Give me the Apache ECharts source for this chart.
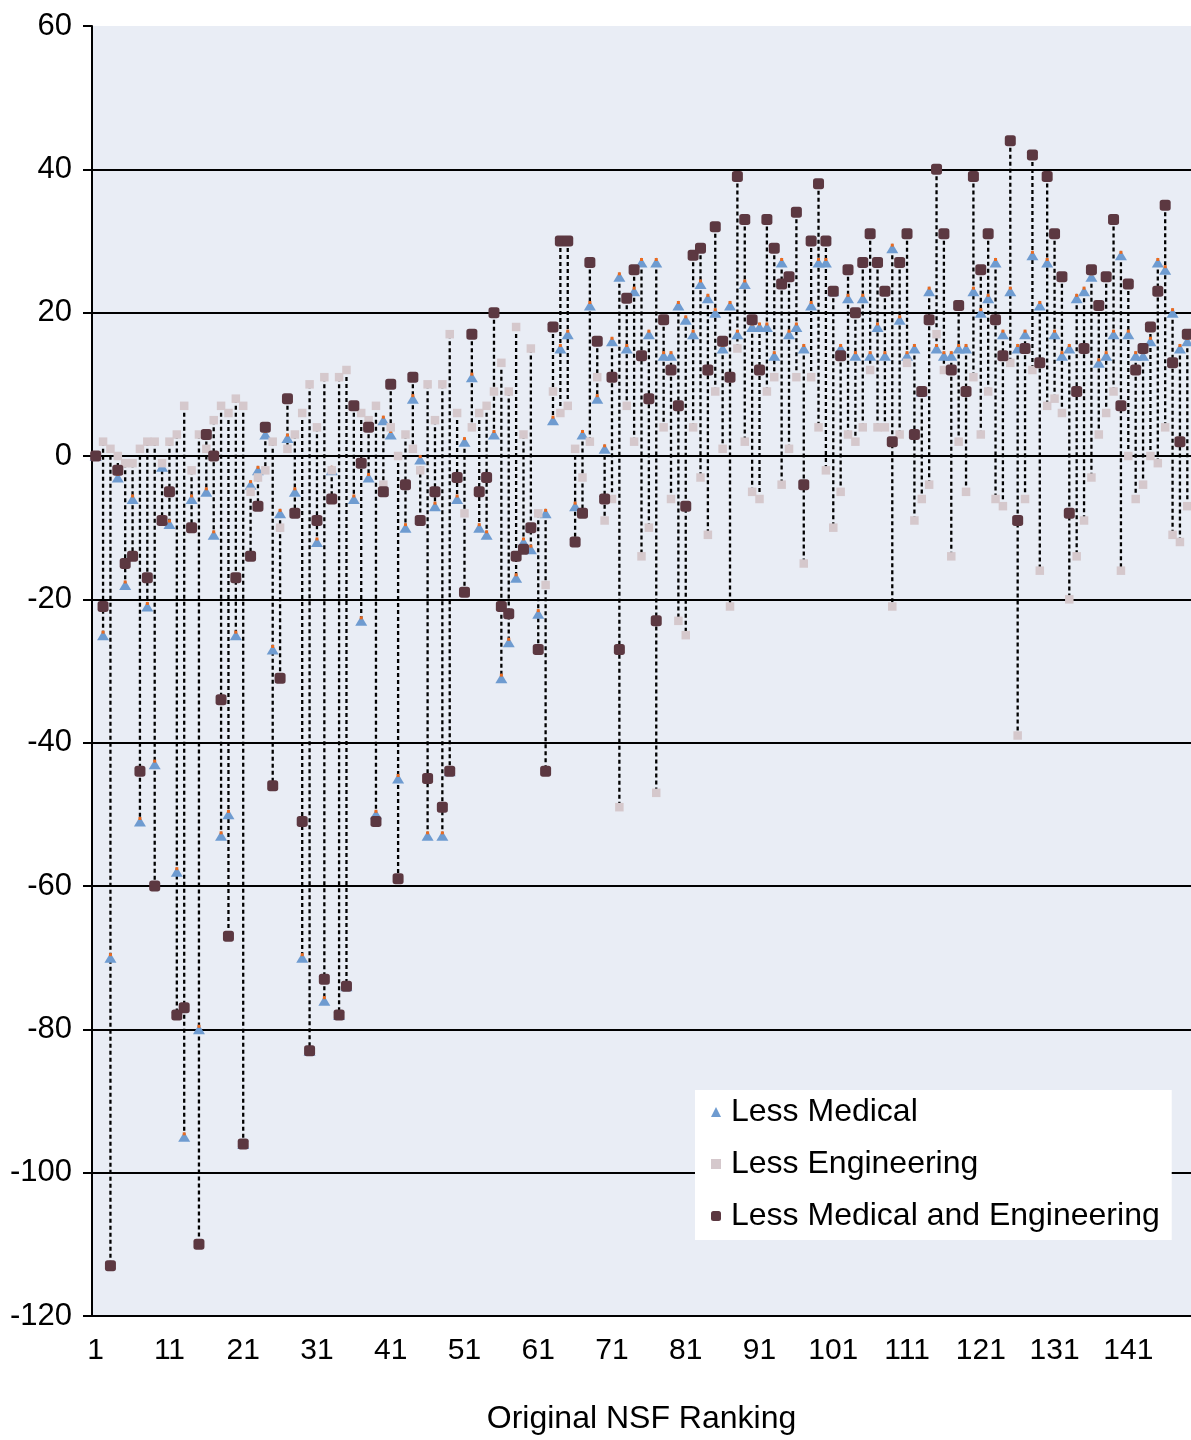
<!DOCTYPE html>
<html>
<head>
<meta charset="utf-8">
<script src="https://cdn.jsdelivr.net/npm/echarts@6/dist/echarts.min.js"></script>
<style>
  html, body { margin: 0; padding: 0; background: #ffffff; }
  #chart { width: 1191px; height: 1440px; }
</style>
</head>
<body>
<div id="chart"></div>
<script>
// Original NSF ranking positions 1..149
const categories = Array.from({ length: 149 }, (_, i) => String(i + 1));

// Change in ranking, "Less Medical"
const lessMedical = [
  0, -25, -70, -3, -18, -6, -51, -21, -43, -1.5, -9.5, -58, -95, -6, -80, -5, -11, -53, -50, -25, -96, -4, -2, 3, -27,
  -8, 2.5, -5, -70, -83, -12, -76, -2, -78, -74, -6, -23, -3, -50, 5, 3, -45, -10, 8, -0.5, -53, -7, -53, -44, -6, 2,
  11, -10, -11, 3, -31, -26, -17, -12, -13, -22, -8, 5, 15, 17, -7, 3, 21, 8, 1, 16, 25, 15, 23, 27, 17, 27,
  14, 14, 21, 19, 17, 24, 22, 20, 15, 21, 17, 24, 18, 18, 18, 14, 27, 17, 18, 15, 21, 27, 27, 23, 15,
  22, 14, 22, 14, 18, 14, 29, 19, 14, 15, 9, 23, 15, 14, 14, 15, 15, 23, 20, 22, 27, 17, 23, 15, 17,
  28, 21, 27, 17, 14, 15, 22, 23, 25, 13, 14, 17, 28, 17, 14, 14, 16, 27, 26, 20, 15, 16
];

// Change in ranking, "Less Engineering"
const lessEngineering = [
  0, 2, 1, 0, -1, -1, 1, 2, 2, -1, 2, 3, 7, -2, 3, 1, 5, 7, 6, 8, 7, -5, -3, -2, 2,
  -10, 1, 3, 6, 10, 4, 11, -2, 11, 12, 7, 6, 5, 7, -4, 4, 0, 3, 1, -2, 10, 5, 10, 17, 6, -8,
  4, 6, 7, 9, 13, 9, 18, 3, 15, -8, -18, 9, 6, 7, 1, -3, 2, 11, -9, -6, -49, 7, 2, -14, -10, -47,
  4, -6, -23, -25, 4, -3, -11, 9, 1, -21, 15, 2, -5, -6, 9, 11, -4, 1, 11, -15, 11, 4, -2, -10, -5,
  3, 2, 4, 12, 4, 4, -21, 3, 13, -9, -6, -4, 17, 12, -14, 2, -5, 11, 3, 9, -6, -7, 13, -39, -6,
  12, -16, 7, 8, 6, -20, -14, -9, -3, 3, 6, 9, -16, 0, -6, -4, 0, -1, 4, -11, -12, -7
];

// Change in ranking, "Less Medical and Engineering"
const lessBoth = [
  0, -21, -113, -2, -15, -14, -44, -17, -60, -9, -5, -78, -77, -10, -110, 3, 0, -34, -67, -17, -96, -14, -7, 4, -46,
  -31, 8, -8, -51, -83, -9, -73, -6, -78, -74, 7, -1, 4, -51, -5, 10, -59, -4, 11, -9, -45, -5, -49, -44, -3, -19,
  17, -5, -3, 20, -21, -22, -14, -13, -10, -27, -44, 18, 30, 30, -12, -8, 27, 16, -6, 11, -27, 22, 26, 14, 8, -23,
  19, 12, 7, -7, 28, 29, 12, 32, 16, 11, 39, 33, 19, 12, 33, 29, 24, 25, 34, -4, 30, 38, 30, 23, 14,
  26, 20, 27, 31, 27, 23, 2, 27, 31, 3, 9, 19, 40, 31, 12, 21, 9, 39, 26, 31, 19, 14, 44, -9, 15,
  42, 13, 39, 31, 25, -8, 9, 15, 26, 21, 25, 33, 7, 24, 12, 15, 18, 23, 35, 13, 2, 17
];

const seriesNames = ['Less Medical', 'Less Engineering', 'Less Medical and Engineering'];
const yTicks = { min: -120, max: 60, step: 20 };

// high-low range per category, derived from the three series
const highLow = categories.map((c, i) => {
  const vals = [lessMedical[i], lessEngineering[i], lessBoth[i]];
  return [i, Math.max.apply(null, vals), Math.min.apply(null, vals)];
});

const FONT = 'Liberation Sans, Arial, Helvetica, sans-serif';
const chart = echarts.init(document.getElementById('chart'), null, { renderer: 'canvas' });

chart.setOption({
  animation: false,
  backgroundColor: '#ffffff',
  textStyle: { fontFamily: FONT, color: '#000' },
  grid: {
    left: 92, right: -2, top: 26, bottom: 122,
    show: true, backgroundColor: '#e9edf5', borderWidth: 0
  },
  legend: {
    data: [
      { name: seriesNames[0], icon: 'triangle', itemStyle: { color: '#6e9bd0' } },
      { name: seriesNames[1], icon: 'rect', itemStyle: { color: '#d5c8cc' } },
      { name: seriesNames[2], icon: 'roundRect', itemStyle: { color: '#5c3841' } }
    ],
    orient: 'vertical',
    left: 695, top: 1090,
    backgroundColor: '#ffffff',
    padding: [6, 12, 8, 16],
    itemGap: 20,
    itemWidth: 10, itemHeight: 10,
    textStyle: { fontSize: 32, color: '#000', fontFamily: FONT, padding: [0, 0, 0, 5] }
  },
  xAxis: {
    type: 'category',
    data: categories,
    boundaryGap: true,
    axisLine: { show: true, onZero: false, lineStyle: { color: '#000', width: 2 } },
    axisTick: { show: false },
    axisLabel: { interval: 9, fontSize: 30, color: '#000', margin: 20, fontFamily: FONT },
    splitLine: { show: false },
    name: 'Original NSF Ranking',
    nameLocation: 'middle',
    nameGap: 87,
    nameTextStyle: { fontSize: 32, color: '#000', fontFamily: FONT }
  },
  yAxis: {
    type: 'value',
    min: yTicks.min, max: yTicks.max, interval: yTicks.step,
    axisLine: { show: true, lineStyle: { color: '#000', width: 2 } },
    axisTick: { show: true, length: 9, lineStyle: { color: '#000', width: 2 } },
    axisLabel: { fontSize: 31, color: '#000', margin: 20, fontFamily: FONT },
    splitLine: { show: true, showMaxLine: false, lineStyle: { color: '#000', width: 2 } }
  },
  series: [
    {
      type: 'custom',
      name: 'highlow',
      silent: true,
      z: 1,
      data: highLow,
      encode: { x: 0, y: [1, 2] },
      renderItem: function (params, api) {
        const i = api.value(0);
        const p1 = api.coord([i, api.value(1)]);
        const p2 = api.coord([i, api.value(2)]);
        return {
          type: 'line',
          shape: { x1: p1[0], y1: p1[1], x2: p2[0], y2: p2[1] },
          style: { stroke: '#000', lineWidth: 2.3, lineDash: [4, 3] }
        };
      }
    },
    {
      type: 'scatter',
      name: seriesNames[0],
      data: lessMedical,
      symbol: 'triangle',
      symbolSize: [12, 10],
      itemStyle: { color: '#6e9bd0', opacity: 1 },
      z: 2
    },
    {
      type: 'scatter',
      name: 'marker-tip',
      data: lessMedical,
      symbol: 'rect',
      symbolSize: 3,
      symbolOffset: [0, -3],
      itemStyle: { color: '#ea6a1f', opacity: 1 },
      silent: true,
      z: 3
    },
    {
      type: 'scatter',
      name: seriesNames[1],
      data: lessEngineering,
      symbol: 'rect',
      symbolSize: 8.5,
      itemStyle: { color: '#d5c8cc', opacity: 1 },
      z: 4
    },
    {
      type: 'scatter',
      name: seriesNames[2],
      data: lessBoth,
      symbol: 'roundRect',
      symbolSize: 11,
      itemStyle: { color: '#5c3841', opacity: 1 },
      z: 5
    }
  ]
});
</script>
</body>
</html>
